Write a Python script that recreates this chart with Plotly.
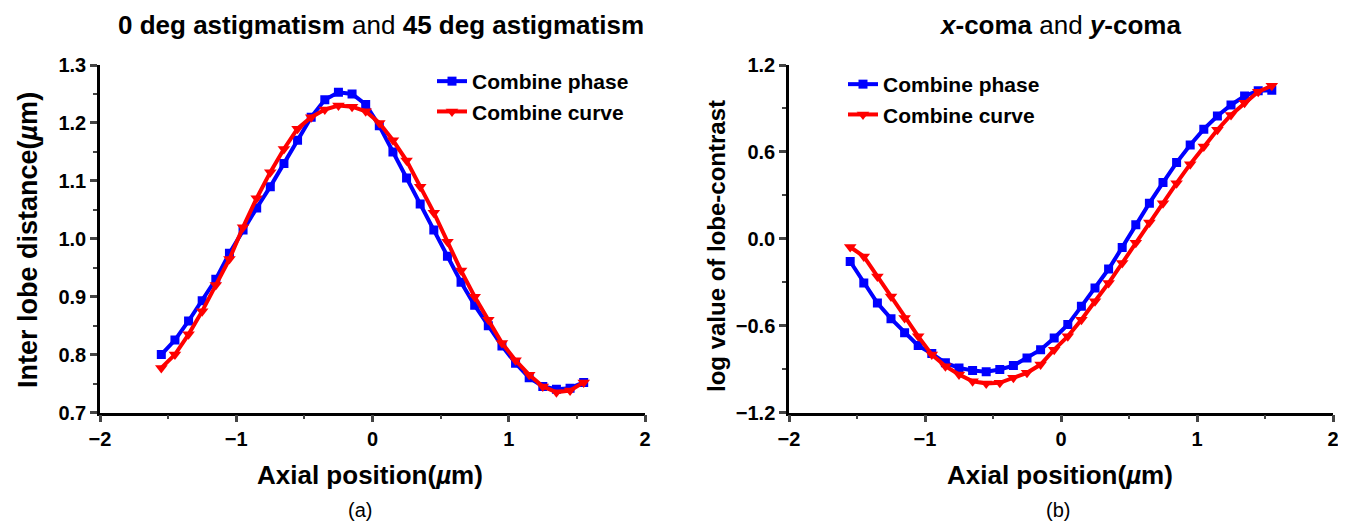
import plotly.graph_objects as go

# ---------------- data ----------------
axial_pos = [-1.55, -1.45, -1.35, -1.25, -1.15, -1.05, -0.95, -0.85, -0.75, -0.65,
             -0.55, -0.45, -0.35, -0.25, -0.15, -0.05, 0.05, 0.15, 0.25, 0.35,
             0.45, 0.55, 0.65, 0.75, 0.85, 0.95, 1.05, 1.15, 1.25, 1.35, 1.45, 1.55]

astig_phase = [0.800, 0.825, 0.858, 0.893, 0.930, 0.975, 1.015, 1.053, 1.090, 1.130,
               1.170, 1.210, 1.240, 1.253, 1.250, 1.232, 1.195, 1.150, 1.105, 1.060,
               1.015, 0.970, 0.925, 0.885, 0.850, 0.815, 0.785, 0.760, 0.745, 0.740,
               0.742, 0.752]
astig_curve = [0.777, 0.800, 0.835, 0.875, 0.920, 0.965, 1.020, 1.070, 1.115, 1.155,
               1.190, 1.210, 1.223, 1.230, 1.228, 1.220, 1.200, 1.170, 1.135, 1.090,
               1.045, 0.995, 0.945, 0.900, 0.860, 0.820, 0.790, 0.765, 0.745, 0.735,
               0.738, 0.752]

coma_phase = [-0.157, -0.306, -0.444, -0.552, -0.650, -0.738, -0.793, -0.857, -0.892, -0.910,
              -0.919, -0.903, -0.876, -0.823, -0.766, -0.685, -0.593, -0.467, -0.340, -0.209,
              -0.060, 0.097, 0.246, 0.388, 0.526, 0.648, 0.757, 0.848, 0.924, 0.986,
              1.023, 1.025]
coma_curve = [-0.057, -0.122, -0.260, -0.398, -0.547, -0.674, -0.800, -0.880, -0.938, -0.984,
              -1.000, -0.995, -0.960, -0.926, -0.869, -0.766, -0.674, -0.559, -0.432, -0.306,
              -0.168, -0.028, 0.112, 0.246, 0.384, 0.515, 0.637, 0.752, 0.855, 0.940,
              1.016, 1.057]

series_names = ["Combine phase", "Combine curve"]
x_ticks = [-2, -1, 0, 1, 2]
y_ticks_a = [0.7, 0.8, 0.9, 1.0, 1.1, 1.2, 1.3]
y_ticks_b = [-1.2, -0.6, 0.0, 0.6, 1.2]

# ---------------- figure ----------------
OFF = 8                      # page body margin in the browser
W, H = 1346 - OFF, 528 - OFF
FONT = "Liberation Sans, Arial, sans-serif"
BLUE = "rgb(0,0,255)"
RED = "rgb(255,0,0)"

fig = go.Figure()

def add_pair(xa, ya, phase, curve, legend):
    fig.add_trace(go.Scatter(
        x=axial_pos, y=phase, mode="lines+markers", name=series_names[0],
        line=dict(color=BLUE, width=4),
        marker=dict(symbol="square", size=9, color=BLUE),
        xaxis=xa, yaxis=ya, legend=legend))
    fig.add_trace(go.Scatter(
        x=axial_pos, y=curve, mode="lines+markers", name=series_names[1],
        line=dict(color=RED, width=4),
        marker=dict(symbol="triangle-down", size=11, color=RED),
        xaxis=xa, yaxis=ya, legend=legend))

add_pair("x", "y", astig_phase, astig_curve, "legend")
add_pair("x2", "y2", coma_phase, coma_curve, "legend2")

def px_x(p):
    return (p - OFF) / W

def px_y(p):
    return 1 - (p - OFF) / H

tickfont = dict(family=FONT, size=20, color="black", weight="bold")

common_x = dict(
    range=[-2, 2], tickvals=x_ticks, ticks="outside", ticklen=7, tickwidth=2.5,
    showline=True, linewidth=2.5, linecolor="black", showgrid=False, zeroline=False,
    tickfont=tickfont, automargin=False, ticklabeloverflow="allow",
    minor=dict(ticks="outside", ticklen=4, tickwidth=2, dtick=0.5, tick0=0, showgrid=False),
)
common_y = dict(
    ticks="outside", ticklen=7, tickwidth=2.5, showline=True, linewidth=2.5,
    linecolor="black", showgrid=False, zeroline=False, tickfont=tickfont,
    automargin=False, tickformat=".1f",
)

ytop, ybot = px_y(65), px_y(412.5)
legfont = dict(family=FONT, size=21, color="black", weight="bold")

fig.update_layout(
    width=W, height=H,
    margin=dict(l=0, r=0, t=0, b=0),
    paper_bgcolor="white", plot_bgcolor="white",
    xaxis=dict(domain=[px_x(100), px_x(645)], anchor="y", **common_x),
    yaxis=dict(domain=[ybot, ytop], anchor="x", range=[0.7, 1.3], tickvals=y_ticks_a,
               minor=dict(ticks="outside", ticklen=4, tickwidth=2, dtick=0.05, tick0=0.7,
                          showgrid=False),
               **common_y),
    xaxis2=dict(domain=[px_x(789), px_x(1333)], anchor="y2", **common_x),
    yaxis2=dict(domain=[ybot, ytop], anchor="x2", range=[-1.2, 1.2], tickvals=y_ticks_b,
                minor=dict(ticks="outside", ticklen=4, tickwidth=2, dtick=0.3, tick0=0,
                           showgrid=False),
                **common_y),
    legend=dict(x=px_x(432), y=px_y(61), xanchor="left", yanchor="top",
                bgcolor="rgba(0,0,0,0)", tracegroupgap=0, itemwidth=30, font=legfont),
    legend2=dict(x=px_x(843), y=px_y(64), xanchor="left", yanchor="top",
                 bgcolor="rgba(0,0,0,0)", tracegroupgap=0, itemwidth=30, font=legfont),
    showlegend=True,
)

def ann(text, x, y, size, angle=0):
    return dict(text=text, x=px_x(x), y=px_y(y), xref="paper", yref="paper",
                xanchor="center", yanchor="middle", showarrow=False, textangle=angle,
                font=dict(family=FONT, size=size, color="black"))

annotations = [
    ann("<b>0 deg astigmatism</b> and <b>45 deg astigmatism</b>", 381, 25, 26),
    ann("<b><i>x</i>-coma</b> and <b><i>y</i>-coma</b>", 1060, 25, 26),
    ann("<b>Axial position(<i>µ</i>m)</b>", 370, 475, 26),
    ann("<b>Axial position(<i>µ</i>m)</b>", 1060, 475, 26),
    ann("(a)", 360, 510, 20),
    ann("(b)", 1058, 510, 20),
    ann("<b>Inter lobe distance(<i>µ</i>m)</b>", 28, 240, 27, -90),
    ann("<b>log value of lobe-contrast</b>", 717, 246, 24, -90),
]
fig.update_layout(annotations=annotations)

fig.write_html("out.html")
